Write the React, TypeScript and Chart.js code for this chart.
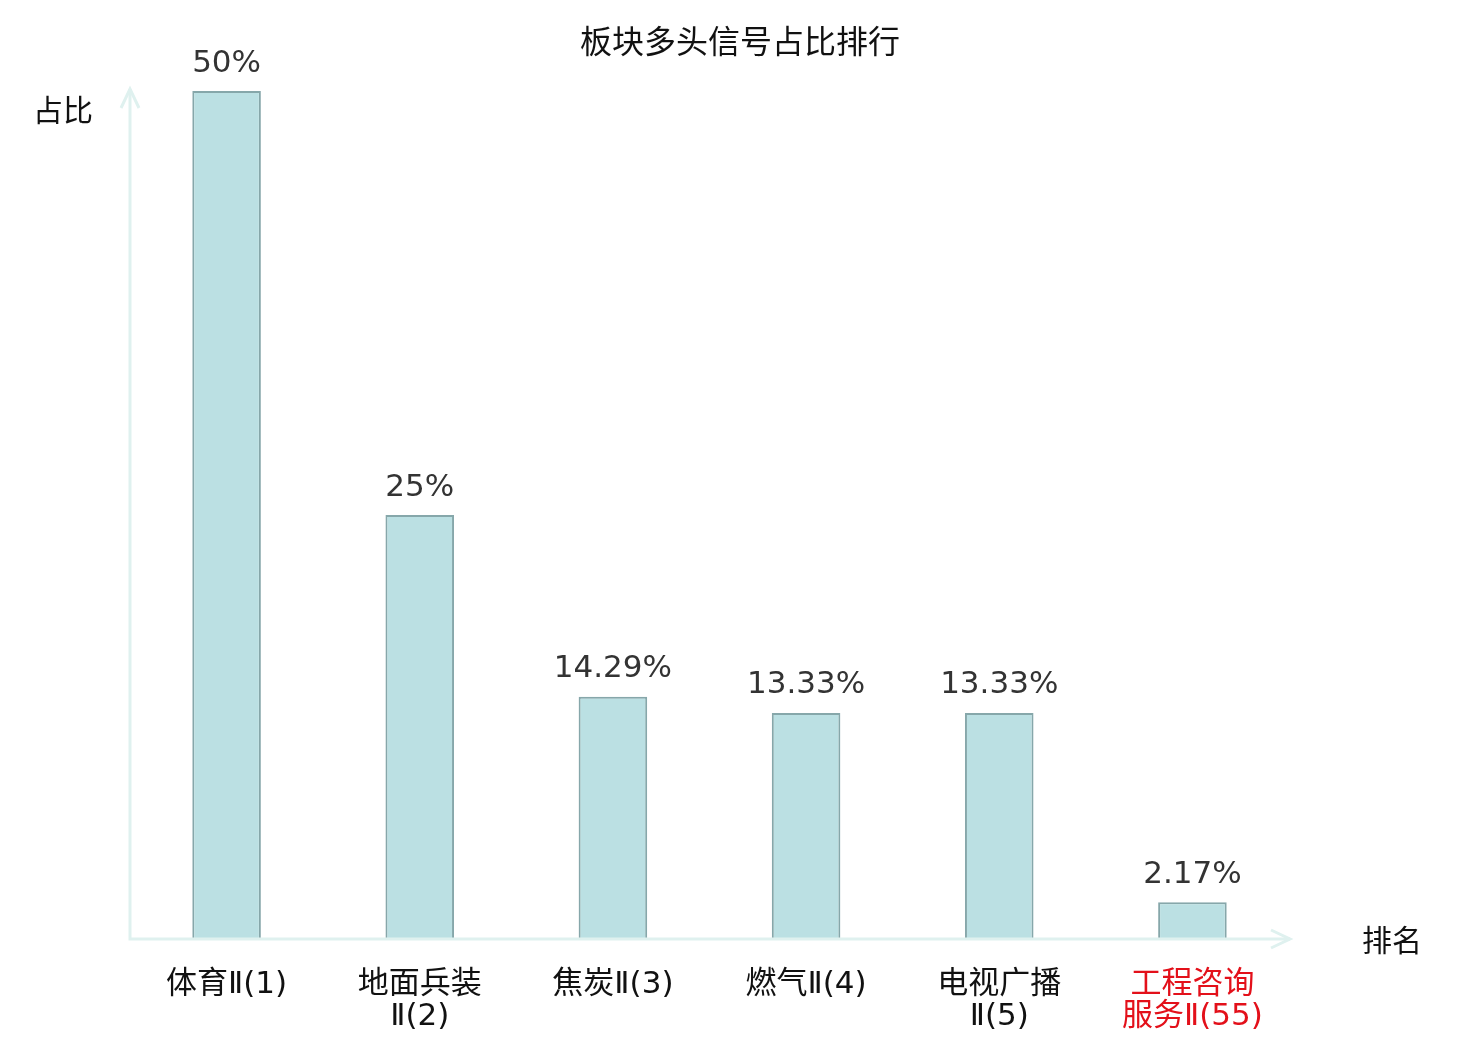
import React, { useEffect, useRef } from "react";
import { Chart, registerables } from "chart.js";

Chart.register(...registerables);

const categories: string[][] = [
  ["体育Ⅱ(1)"],
  ["地面兵装", "Ⅱ(2)"],
  ["焦炭Ⅱ(3)"],
  ["燃气Ⅱ(4)"],
  ["电视广播", "Ⅱ(5)"],
  ["工程咨询", "服务Ⅱ(55)"],
];
const shares: number[] = [50, 25, 14.29, 13.33, 13.33, 2.17];
const highlightIndex = 5;
const chartTitle = "板块多头信号占比排行";
const yAxisName = "占比";
const xAxisName = "排名";

const FONT = "'DejaVu Sans', 'Noto Sans CJK SC', sans-serif";

const overlayPlugin = {
  id: "overlay",
  afterDatasetsDraw(chart: any) {
    const { ctx, chartArea } = chart;
    const { left, right, top, bottom } = chartArea;
    ctx.save();
    // axes with arrows
    ctx.strokeStyle = "#dff1ef";
    ctx.lineWidth = 3;
    ctx.lineCap = "butt";
    ctx.beginPath();
    ctx.moveTo(left, bottom + 1.5);
    ctx.lineTo(left, top - 2);
    ctx.moveTo(left - 1.5, bottom);
    ctx.lineTo(right + 1, bottom);
    ctx.stroke();
    ctx.beginPath();
    ctx.moveTo(left - 9, top + 17);
    ctx.lineTo(left, top - 2);
    ctx.lineTo(left + 9, top + 17);
    ctx.moveTo(right - 18, bottom - 9);
    ctx.lineTo(right + 1, bottom);
    ctx.lineTo(right - 18, bottom + 9);
    ctx.stroke();

    // value labels
    const meta = chart.getDatasetMeta(0);
    ctx.fillStyle = "#333333";
    ctx.font = `31px ${FONT}`;
    ctx.textAlign = "center";
    ctx.textBaseline = "bottom";
    meta.data.forEach((bar: any, i: number) => {
      ctx.fillText(`${shares[i]}%`, bar.x, bar.y - 12);
    });

    // title and axis names
    ctx.fillStyle = "#111111";
    ctx.font = `32px ${FONT}`;
    ctx.textBaseline = "middle";
    ctx.fillText(chartTitle, 732, 37);
    ctx.font = `30px ${FONT}`;
    ctx.fillText(yAxisName, 55, 105);
    ctx.fillText(xAxisName, 1384, 935);
    ctx.restore();
  },
};

export default function App() {
  const canvasRef = useRef<HTMLCanvasElement | null>(null);

  useEffect(() => {
    if (!canvasRef.current) return;
    const chart = new Chart(canvasRef.current, {
      type: "bar",
      data: {
        labels: categories,
        datasets: [
          {
            data: shares,
            backgroundColor: "#bbe0e3",
            borderColor: "#86a7aa",
            borderWidth: 2,
            categoryPercentage: 1,
            barPercentage: 0.355,
          },
        ],
      },
      options: {
        animation: false,
        responsive: true,
        maintainAspectRatio: false,
        layout: { padding: { left: 122, right: 183, top: 83, bottom: 0 } },
        plugins: {
          legend: { display: false },
          title: { display: false },
          tooltip: { enabled: false },
        },
        scales: {
          x: {
            grid: { display: false },
            border: { display: false },
            afterFit: (scale: any) => {
              scale.height = 93;
            },
            ticks: {
              autoSkip: false,
              maxRotation: 0,
              minRotation: 0,
              padding: 22,
              font: { size: 31, family: FONT, lineHeight: 1.04 },
              color: (c: any) => (c.index === highlightIndex ? "#e3101a" : "#111111"),
            },
          },
          y: {
            display: false,
            min: 0,
            max: 50,
          },
        },
      },
      plugins: [overlayPlugin],
    });
    return () => chart.destroy();
  }, []);

  return (
    <div style={{ width: 1464, height: 1024, position: "relative" }}>
      <canvas ref={canvasRef} />
    </div>
  );
}
